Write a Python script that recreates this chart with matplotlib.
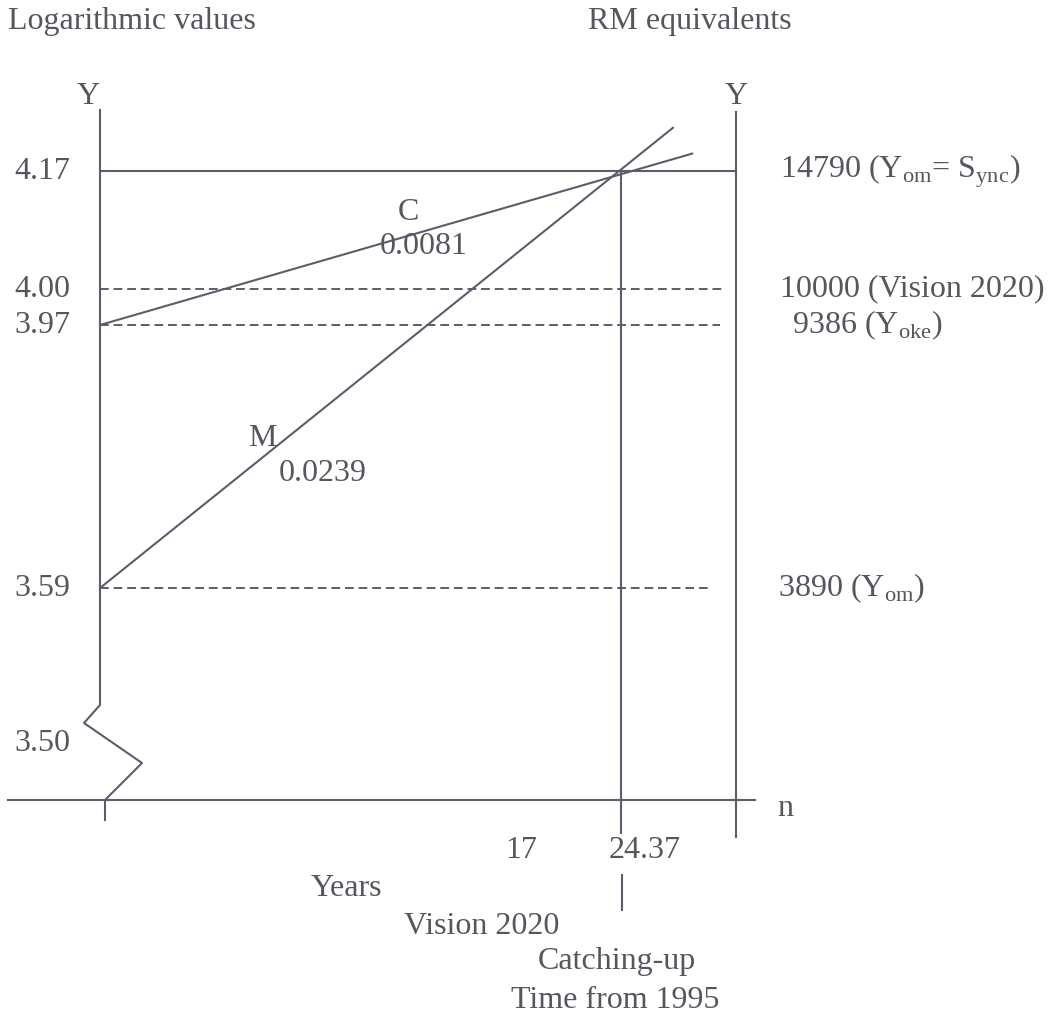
import matplotlib.pyplot as plt
import matplotlib.transforms as mtransforms
import numpy as np

# 数据：对数值、对应的 RM 值与增长率
levels = [3.59, 3.97, 4.00, 4.17]
rm_labels = ["3890 (Y$_{\\rm om}$)", "9386 (Y$_{\\rm oke}$)",
             "10000 (Vision 2020)", "14790 (Y$_{\\rm om}$= S$_{\\rm ync}$)"]
growth_names = ["M", "C"]
growth_start = [3.59, 3.97]
growth_rate = [0.0239, 0.0081]
growth_end_n = [26.8, 27.7]
catch_up_n = 24.37
vision_n = 17
break_level = 3.50

W, H = 1056, 1016
INK = "#5a5e6c"
TXT = "#55565e"

plt.rcParams['font.family'] = ['Liberation Serif', 'DejaVu Serif']
plt.rcParams['mathtext.fontset'] = 'custom'
plt.rcParams['mathtext.rm'] = 'Liberation Serif'

# 纵轴不是等比例画的，用分段线性刻度模拟原图
scale_lv = np.array([3.00, 3.40, 3.50, 3.59, 3.97, 4.00, 4.17, 4.60])
scale_px = np.array([1028, 800, 743, 588, 325, 289, 171, -136])


def fwd(v):
    return -np.interp(v, scale_lv, scale_px)


def inv(p):
    return np.interp(p, -scale_px, scale_lv)


fig = plt.figure(figsize=(W / 100, H / 100), dpi=100)
fig.patch.set_facecolor('white')
ax = fig.add_axes([0, 0, 1, 1])
ax.axis('off')
ax.set_yscale('function', functions=(fwd, inv))
px_per_year = (621 - 100) / catch_up_n
ax.set_xlim(-100 / px_per_year, (W - 100) / px_per_year)
ax.set_ylim(inv(-H), inv(0))
n_right = (736 - 100) / px_per_year


def P(x, y):
    # 像素坐标 -> 画布比例坐标
    return x / W, 1 - y / H


def seg(pts, **kw):
    xs = [p[0] / W for p in pts]
    ys = [1 - p[1] / H for p in pts]
    fig.add_artist(plt.Line2D(xs, ys, color=INK, lw=1.5, transform=fig.transFigure, **kw))


# 坐标轴与断轴符号
seg([(100, 110), (100, 705), (84, 723), (142, 763), (105, 800), (105, 820)])
seg([(8, 800), (755, 800)])
seg([(736, 112), (736, 837)])
seg([(622, 875), (622, 910)])

# 水平参考线
lv_end = [28.5, 29.0, 29.1, n_right]
for lv, end in zip(levels, lv_end):
    if lv == 4.17:
        ax.plot([0, end], [lv, lv], color=INK, lw=1.5)
    else:
        ax.plot([0, end], [lv, lv], color=INK, lw=1.4, ls=(0, (4.5, 2.5)))

# 追赶时间竖线
ax.plot([catch_up_n, catch_up_n], [4.17, inv(-833)], color=INK, lw=1.5)

# 两条增长线
for s, r, e in zip(growth_start, growth_rate, growth_end_n):
    ax.plot([0, e], [s, s + r * e], color=INK, lw=1.5)

fs = 23
blend = mtransforms.blended_transform_factory(fig.transFigure, ax.transData)

# 左侧刻度标签
for lv in levels + [break_level]:
    ax.text(42 / W, lv, f"{lv:.2f}", transform=blend, ha='center', va='center',
            fontsize=fs, color=TXT)

# 右侧 RM 标签
rm_x = [778, 792, 780, 780]
for lv, lab, x in zip(levels, rm_labels, rm_x):
    ax.text(x / W, lv, lab, transform=blend, ha='left', va='center',
            fontsize=fs, color=TXT)

texts = [
    ("Logarithmic values", 8, 22, 'left'),
    ("RM equivalents", 588, 22, 'left'),
    ("Y", 88, 97, 'center'),
    ("Y", 736, 97, 'center'),
    ("n", 785, 808, 'center'),
    (f"{vision_n}", 521, 850, 'center'),
    (f"{catch_up_n}", 645, 850, 'center'),
    ("Years", 346, 888, 'center'),
    ("Vision 2020", 482, 926, 'center'),
    ("Catching-up", 617, 962, 'center'),
    ("Time from 1995", 615, 1000, 'center'),
    (growth_names[1], 408, 212, 'center'),
    (f"{growth_rate[1]:.4f}", 424, 247, 'center'),
    (growth_names[0], 262, 438, 'center'),
    (f"{growth_rate[0]:.4f}", 323, 473, 'center'),
]
for t, x, y, ha in texts:
    fig.text(*P(x, y), t, ha=ha, va='center', fontsize=fs, color=TXT)

fig.savefig("out.png", dpi=100, facecolor='white')
